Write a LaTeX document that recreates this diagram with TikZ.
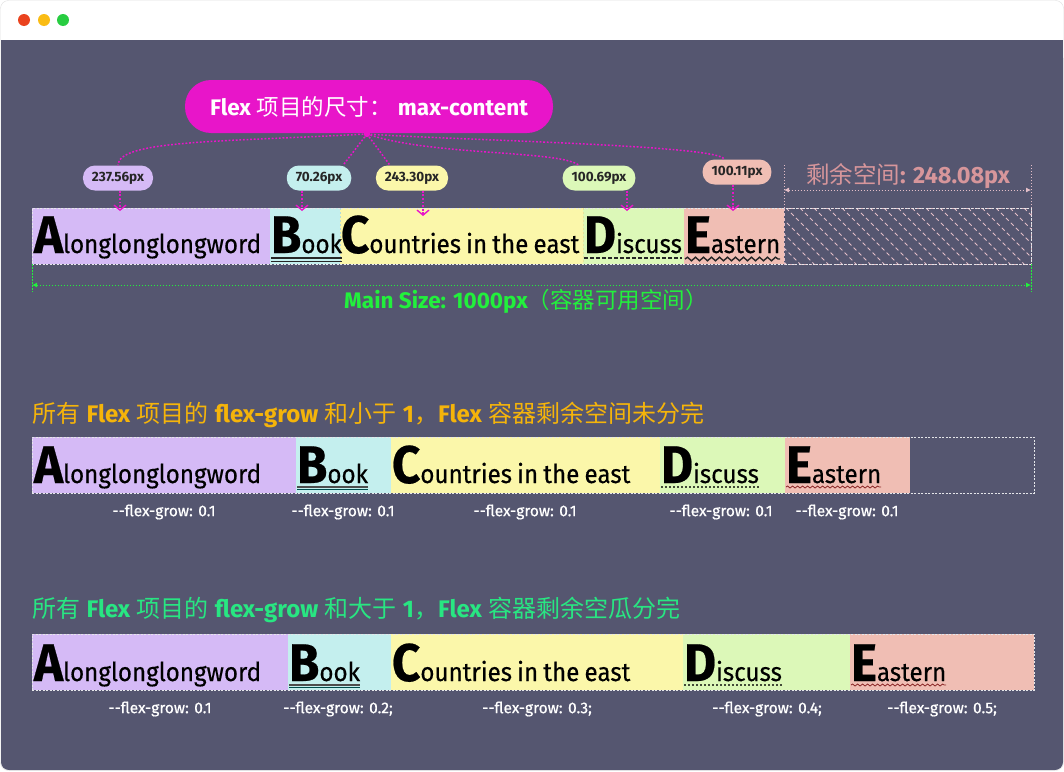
\documentclass[tikz,border=0pt]{standalone}
\usepackage{fontspec}
\setmainfont{Fira Sans}
\newfontfamily\cjk{Noto Sans CJK SC}
\newfontfamily\hand{Fira Sans}
\newfontfamily\itemfont{Fira Sans}[FakeStretch=0.93, WordSpace=0.8, FakeBold=0.4]
\newfontfamily\growfont{Fira Sans}[FakeBold=0.6]
\usetikzlibrary{arrows.meta,decorations.pathmorphing,calc}
\definecolor{bgc}{RGB}{85,86,112}
\definecolor{mag}{RGB}{232,21,201}
\definecolor{cA}{RGB}{213,186,246}
\definecolor{cB}{RGB}{196,239,238}
\definecolor{cC}{RGB}{251,247,170}
\definecolor{cD}{RGB}{220,248,184}
\definecolor{cE}{RGB}{240,190,180}
\definecolor{remc}{RGB}{215,150,155}
\definecolor{hatchc}{RGB}{228,190,200}
\definecolor{mgreen}{RGB}{34,240,60}
\definecolor{orng}{RGB}{245,180,10}
\definecolor{mint}{RGB}{40,230,130}
\definecolor{tred}{RGB}{234,67,30}
\definecolor{tyel}{RGB}{250,188,20}
\definecolor{tgrn}{RGB}{40,205,65}
\definecolor{wavec}{RGB}{140,40,40}
\newcommand\hb[1]{{\hand\bfseries #1}}
\newcommand\BigL[1]{{\fontsize{53}{53}\selectfont\bfseries #1}}
\tikzset{
  itembox/.style={anchor=north west, inner sep=0, outer sep=0, minimum height=56, draw=none},
  itemtext/.style={anchor=base west, inner sep=0, outer sep=0, font=\itemfont\fontsize{26}{28}\selectfont, text=black},
  rowbox/.style={anchor=north west, inner sep=0, outer sep=0, minimum height=56, draw=white!85!bgc, line width=0.8, dash pattern=on 2 off 1.5},
  lbl/.style={rounded corners=12, minimum height=25, inner xsep=9, inner ysep=0, font=\hand\bfseries\fontsize{13.5}{15}\selectfont, text=black!85},
  conn/.style={draw=mag, line width=1.5, dash pattern=on 1.8 off 1.8},
  larrow/.style={conn, -{Straight Barb[length=5,width=12,line width=1.4]}},
  growlbl/.style={text=white, font=\growfont\fontsize{15.5}{18}\selectfont},
  title/.style={anchor=west, inner sep=0, font=\fontsize{24}{28}\selectfont}
}
\begin{document}
\begin{tikzpicture}[x=1pt,y=-1pt]
\useasboundingbox (0,0) rectangle (1064,771);
% window
\fill[white] (0,0) rectangle (1064,771);
\draw[black!12, fill=white, rounded corners=8] (0.5,0.5) rectangle (1063.5,770.5);
\fill[bgc] (1,40) rectangle (1063,760);
\fill[bgc, rounded corners=8] (1,50) rectangle (1063,770);
\fill[tred] (24,20) circle (6);
\fill[tyel] (44,20) circle (6);
\fill[tgrn] (63,20) circle (6);

% pill
\node[fill=mag, rounded corners=26, minimum width=368, minimum height=53, text=white, font=\fontsize{22.5}{26}\selectfont] (pill) at (369,106.5)
  {\hb{Flex} {\cjk 项目的尺寸：} \hb{max-content}};
\coordinate (hub) at (367,134);
\fill[mag] (hub) circle (3.2);

% labels
\node[lbl, fill=cA] (lblA) at (118,178) {237.56px};
\node[lbl, fill=cB] (lblB) at (319,178) {70.26px};
\node[lbl, fill=cC] (lblC) at (412,178) {243.30px};
\node[lbl, fill=cD] (lblD) at (599,178) {100.69px};
\node[lbl, fill=cE] (lblE) at (737,172) {100.11px};

\draw[conn] (hub) .. controls (220,142) and (118,140) .. (lblA.north);
\draw[conn] (hub) .. controls (355,150) .. ($(lblB.north)+(24,0)$);
\draw[conn] (hub) .. controls (378,150) .. ($(lblC.north)+(-22,0)$);
\draw[conn] (hub) .. controls (430,156) and (560,150) .. ($(lblD.north)+(-20,0)$);
\draw[conn] (hub) .. controls (450,140) and (722,145) .. ($(lblE.north)+(-13,0)$);

\coordinate (tA) at (120,211);
\coordinate (tB) at (302,211);
\coordinate (tC) at (423,216);
\coordinate (tD) at (627,211);
\coordinate (tE) at (733,211);

% row 1
\node[itembox, fill=cA, minimum width=238] (a1) at (32,208) {};
\node[itembox, fill=cB, minimum width=70] (b1) at (270,208) {};
\node[itembox, fill=cC, minimum width=243] (c1) at (340,208) {};
\node[itembox, fill=cD, minimum width=101] (d1) at (583,208) {};
\node[itembox, fill=cE, minimum width=100] (e1) at (684,208) {};
\node[itembox, minimum width=247, draw=hatchc, line width=0.8, dash pattern=on 3 off 2] (rem) at (784,208) {};
\begin{scope}
  \clip (rem.north west) rectangle (rem.south east);
  \foreach \x in {730,744,...,1040} {
    \draw[hatchc, line width=0.8, dash pattern=on 4 off 3] (\x,208) -- (\x+56,264);
  }
\end{scope}
\node[rowbox, minimum width=999, fill=none] (row1) at (32,208) {};
\draw[black!8!cC, dash pattern=on 2 off 2, line width=0.5] (c1.north east) -- (c1.south east);
\draw[black!8!cB, dash pattern=on 2 off 2, line width=0.5] (b1.north east) -- (b1.south east);

\node[itemtext] (ta1) at (34,253) {\BigL{A}longlonglongword};
\node[itemtext] (tb1) at (271,253) {\BigL{B}ook};
\node[itemtext] (tc1) at (341,253) {\BigL{C}ountries in the east};
\node[itemtext] (td1) at (584,253) {\BigL{D}iscuss};
\node[itemtext] (te1) at (685,253) {\BigL{E}astern};
\draw[black!85, line width=1.4] ($(tb1.base west)+(0,5)$) -- ($(tb1.base east)+(0,5)$);
\draw[black!85, line width=1.4] ($(tb1.base west)+(0,8.5)$) -- ($(tb1.base east)+(0,8.5)$);
\draw[black!85, line width=1.5, dash pattern=on 4 off 2] ($(td1.base west)+(0,5)$) -- ($(td1.base east)+(0,5)$);
\draw[black!85, line width=1.4, decorate, decoration={snake, amplitude=1.8, segment length=8}] ($(te1.base west)+(0,6)$) -- ($(te1.base east)+(0,6)$);

\draw[larrow] (lblA.south -| tA) -- (tA);
\draw[larrow] (lblB.south -| tB) -- (tB);
\draw[larrow] (lblC.south -| tC) -- (tC);
\draw[larrow] (lblD.south -| tD) -- (tD);
\draw[larrow] (lblE.south -| tE) -- (tE);

% remaining space dimension
\node[text=remc, font=\fontsize{23.5}{27}\selectfont] (remtxt) at (908,176) {{\cjk 剩余空间}\hb{: 248.08px}};
\coordinate (dl) at (784,190);
\coordinate (dr) at (1031,190);
\draw[hatchc, dash pattern=on 1.5 off 1.5, line width=0.6] (rem.north west) -- (784,164);
\draw[hatchc, dash pattern=on 1.5 off 1.5, line width=0.6] (rem.north east) -- (1031,164);
\draw[hatchc, dash pattern=on 1.5 off 1.5, line width=0.8, {Latex[length=5,width=5]}-{Latex[length=5,width=5]}] (dl) -- (dr);

% main size
\coordinate (ml) at (32,285);
\coordinate (mr) at (1031,285);
\draw[mgreen, dash pattern=on 1.5 off 1.5, line width=0.6] (row1.south west) -- (32,292);
\draw[mgreen, dash pattern=on 1.5 off 1.5, line width=0.6] (rem.south east) -- (1031,292);
\draw[mgreen, dash pattern=on 1.5 off 1.5, line width=0.9, {Latex[length=5,width=5]}-{Latex[length=5,width=5]}] (ml) -- (mr);
\node[text=mgreen, font=\fontsize{22.5}{26}\selectfont] (mstxt) at (526,301) {\hb{Main Size: 1000px}{\cjk （容器可用空间）}};

% section 2
\node[title, text=orng] (t2) at (32,415) {{\cjk 所有} \hb{Flex} {\cjk 项目的} \hb{flex-grow} {\cjk 和小于} \hb{1}{\cjk ，}\hb{Flex} {\cjk 容器剩余空间未分完}};
\node[itembox, fill=cA, minimum width=264] (a2) at (32,437) {};
\node[itembox, fill=cB, minimum width=95] (b2) at (296,437) {};
\node[itembox, fill=cC, minimum width=269] (c2) at (391,437) {};
\node[itembox, fill=cD, minimum width=125] (d2) at (660,437) {};
\node[itembox, fill=cE, minimum width=125] (e2) at (785,437) {};
\node[rowbox, minimum width=1002] (row2) at (32,437) {};
\node[itemtext] (ta2) at (34,483) {\BigL{A}longlonglongword};
\node[itemtext] (tb2) at (297,483) {\BigL{B}ook};
\node[itemtext] (tc2) at (392,483) {\BigL{C}ountries in the east};
\node[itemtext] (td2) at (661,483) {\BigL{D}iscuss};
\node[itemtext] (te2) at (786,483) {\BigL{E}astern};
\draw[black!70, line width=1.2] ($(tb2.base west)+(0,4)$) -- ($(tb2.base east)+(0,4)$);
\draw[teal!60!black, line width=1] ($(tb2.base west)+(0,6)$) -- ($(tb2.base east)+(0,6)$);
\draw[black!70!cD, line width=1.3, dash pattern=on 2 off 2] ($(td2.base west)+(0,4)$) -- ($(td2.base east)+(0,4)$);
\draw[wavec, line width=0.8, decorate, decoration={snake, amplitude=1, segment length=5}] ($(te2.base west)+(0,4)$) -- ($(te2.base east)+(0,4)$);
\node[growlbl] (g21) at (164,512) {-{}-flex-grow: 0.1};
\node[growlbl] (g22) at (343,512) {-{}-flex-grow: 0.1};
\node[growlbl] (g23) at (525,512) {-{}-flex-grow: 0.1};
\node[growlbl] (g24) at (721,512) {-{}-flex-grow: 0.1};
\node[growlbl] (g25) at (847,512) {-{}-flex-grow: 0.1};

% section 3
\node[title, text=mint] (t3) at (32,610) {{\cjk 所有} \hb{Flex} {\cjk 项目的} \hb{flex-grow} {\cjk 和大于} \hb{1}{\cjk ，}\hb{Flex} {\cjk 容器剩余空瓜分完}};
\node[itembox, fill=cA, minimum width=256] (a3) at (32,634) {};
\node[itembox, fill=cB, minimum width=103] (b3) at (288,634) {};
\node[itembox, fill=cC, minimum width=292] (c3) at (391,634) {};
\node[itembox, fill=cD, minimum width=167] (d3) at (683,634) {};
\node[itembox, fill=cE, minimum width=184] (e3) at (850,634) {};
\node[rowbox, minimum width=1002] (row3) at (32,634) {};
\node[itemtext] (ta3) at (34,681) {\BigL{A}longlonglongword};
\node[itemtext] (tb3) at (289,681) {\BigL{B}ook};
\node[itemtext] (tc3) at (392,681) {\BigL{C}ountries in the east};
\node[itemtext] (td3) at (684,681) {\BigL{D}iscuss};
\node[itemtext] (te3) at (851,681) {\BigL{E}astern};
\draw[black!70, line width=1.2] ($(tb3.base west)+(0,4)$) -- ($(tb3.base east)+(0,4)$);
\draw[teal!60!black, line width=1] ($(tb3.base west)+(0,6)$) -- ($(tb3.base east)+(0,6)$);
\draw[black!70!cD, line width=1.3, dash pattern=on 2 off 2] ($(td3.base west)+(0,4)$) -- ($(td3.base east)+(0,4)$);
\draw[wavec, line width=0.8, decorate, decoration={snake, amplitude=1, segment length=5}] ($(te3.base west)+(0,4)$) -- ($(te3.base east)+(0,4)$);
\node[growlbl] (g31) at (160,709) {-{}-flex-grow: 0.1};
\node[growlbl] (g32) at (338,709) {-{}-flex-grow: 0.2;};
\node[growlbl] (g33) at (537,709) {-{}-flex-grow: 0.3;};
\node[growlbl] (g34) at (767,709) {-{}-flex-grow: 0.4;};
\node[growlbl] (g35) at (942,709) {-{}-flex-grow: 0.5;};
\end{tikzpicture}
\end{document}
